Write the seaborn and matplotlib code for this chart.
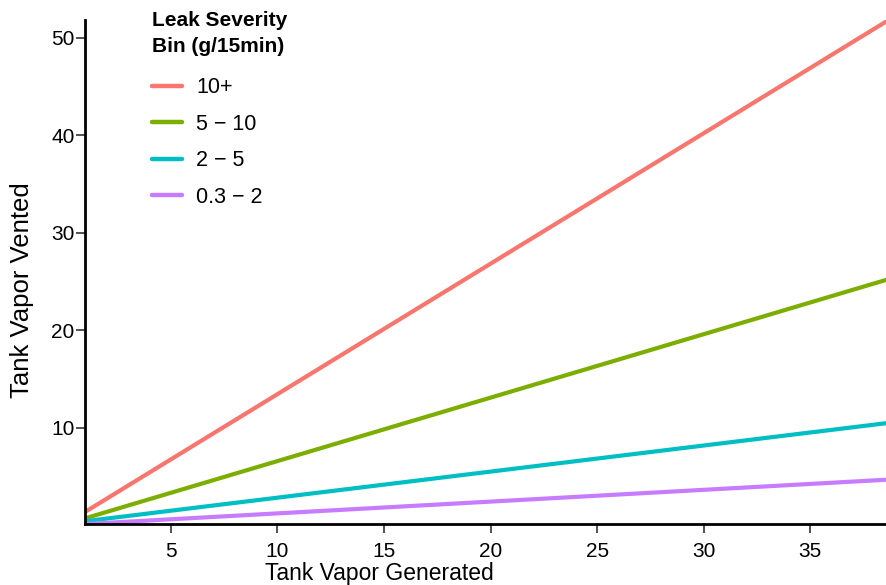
import matplotlib
matplotlib.use("Agg")
import matplotlib.pyplot as plt
import seaborn as sns
import pandas as pd

# Data
bins = ["10+", "5 − 10", "2 − 5", "0.3 − 2"]
x_start = 1.0
x_end = 38.6
y_start = [1.42, 0.75, 0.45, 0.16]
y_end = [51.7, 25.2, 10.5, 4.7]
colors = ["#F8766D", "#7CAE00", "#00BFC4", "#C77CFF"]

rows = []
for b, ys, ye in zip(bins, y_start, y_end):
    rows.append({"gen": x_start, "vent": ys, "bin": b})
    rows.append({"gen": x_end, "vent": ye, "bin": b})
df = pd.DataFrame(rows)

sns.set_theme(style="ticks")
plt.rcParams["font.family"] = ["Liberation Sans", "DejaVu Sans"]
plt.rcParams["text.color"] = "black"
plt.rcParams["axes.labelcolor"] = "black"

fig = plt.figure(figsize=(8.86, 5.85), dpi=100)
ax = fig.add_axes([85/886, 61/585, 801/886, 504/585])

sns.lineplot(data=df, x="gen", y="vent", hue="bin", hue_order=bins,
             palette=colors, linewidth=3.0, ax=ax, legend=True)

ax.set_xlim(0.98, 38.55)
ax.set_ylim(0.16, 51.8)
ax.set_xticks([5, 10, 15, 20, 25, 30, 35])
ax.set_yticks([10, 20, 30, 40, 50])
ax.tick_params(axis="both", labelsize=15, labelcolor="black", length=6.5, width=1.2,
               direction="out", color="#333333")
ax.tick_params(axis="x", pad=6.5)
ax.tick_params(axis="y", pad=1)
for s in ["top", "right"]:
    ax.spines[s].set_visible(False)
for s in ["left", "bottom"]:
    ax.spines[s].set_linewidth(2)
    ax.spines[s].set_color("black")

ax.set_xlabel("Tank Vapor Generated", fontsize=16.5, color="black")
ax.set_ylabel("Tank Vapor Vented", fontsize=18.5, color="black")
ax.xaxis.set_label_coords(0.367, -0.0745)
ax.xaxis.label.set_va("top")
ax.yaxis.set_label_coords(-0.064, 0.464)

leg = ax.legend(title="Leak Severity\nBin (g/15min)", loc="upper left",
                bbox_to_anchor=(0.073, 1.035), frameon=False, fontsize=15.5,
                title_fontproperties={"weight": "bold", "size": 15},
                handlelength=1.4, handletextpad=0.65, labelspacing=0.72,
                borderaxespad=0.0)
leg._legend_box.align = "left"
leg.get_title().set_linespacing(1.45)
leg._legend_box.sep = 15.5
for h in leg.get_lines():
    h.set_linewidth(3.2)
for t in leg.get_texts():
    t.set_color("black")
leg.get_title().set_color("black")

fig.savefig("out.png", dpi=100)
